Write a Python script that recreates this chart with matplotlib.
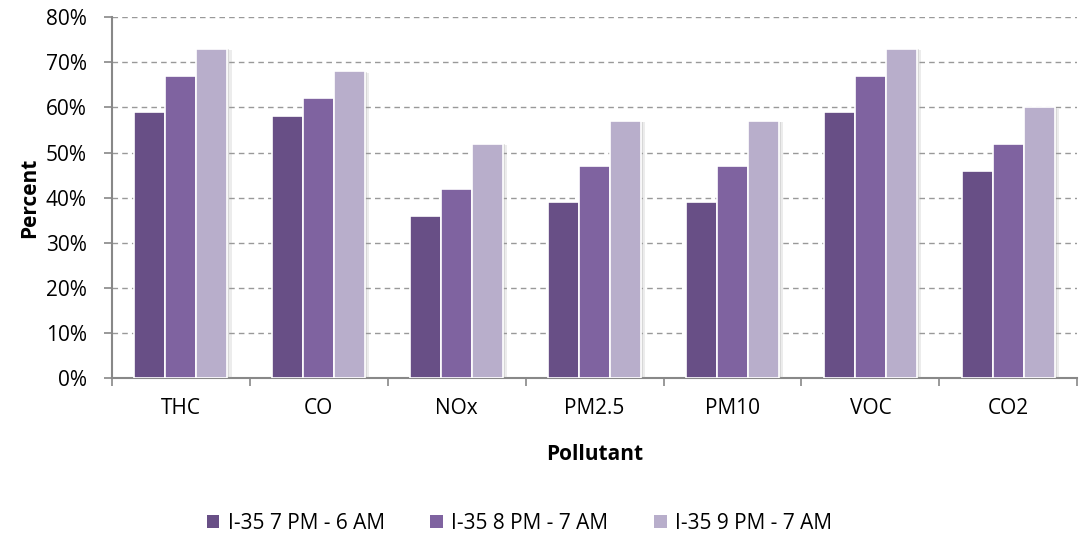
import matplotlib
matplotlib.use("Agg")
import matplotlib.pyplot as plt
import matplotlib.patheffects as pe
from matplotlib.patches import Patch
import numpy as np

# 오염물질별 저감률 (%)
pollutants = ["THC", "CO", "NOx", "PM2.5", "PM10", "VOC", "CO2"]
series_names = ["I-35 7 PM - 6 AM", "I-35 8 PM - 7 AM", "I-35 9 PM - 7 AM"]
pm7_6am = [59, 58, 36, 39, 39, 59, 46]
pm8_7am = [67, 62, 42, 47, 47, 67, 52]
pm9_7am = [73, 68, 52, 57, 57, 73, 60]
colors = ["#684f86", "#7f63a0", "#b8aecb"]

plt.rcParams['font.family'] = ['Open Sans', 'DejaVu Sans']
fs = 15

fig = plt.figure(figsize=(10.86, 5.35), dpi=100)
ax = fig.add_axes([0.103, 0.293, 0.889, 0.675])

x = np.arange(len(pollutants))
width = 0.225
# 엑셀 스타일의 부드러운 그림자
shadow = [pe.SimplePatchShadow(offset=(3, -1), shadow_rgbFace='#999999', alpha=0.18),
          pe.SimplePatchShadow(offset=(1.5, -0.5), shadow_rgbFace='#999999', alpha=0.25),
          pe.Normal()]

for i, (vals, name) in enumerate(zip([pm7_6am, pm8_7am, pm9_7am], series_names)):
    bars = ax.bar(x + (i - 1) * width, vals, width, color=colors[i],
                  edgecolor='white', linewidth=1.2, zorder=3)
    for b in bars:
        b.set_path_effects(shadow)

ax.set_xlim(-0.5, len(pollutants) - 0.5)
ax.set_ylim(0, 80)
ax.set_yticks(np.arange(0, 81, 10))
ax.set_yticklabels([f"{v}%" for v in range(0, 81, 10)], fontsize=fs)
ax.set_xticks(x)
ax.set_xticklabels(pollutants, fontsize=fs)
ax.set_xticks(np.arange(-0.5, len(pollutants)), minor=True)
ax.tick_params(axis='x', which='major', length=0, pad=14)
ax.tick_params(axis='x', which='minor', length=6, color='#888888', width=1.2)
ax.tick_params(axis='y', length=6, color='#888888', width=1.2, pad=12)

ax.yaxis.grid(True, linestyle=(0, (4, 3)), color='#999999', linewidth=1.0, zorder=0)
ax.set_axisbelow(True)
for s in ['top', 'right']:
    ax.spines[s].set_visible(False)
for s in ['left', 'bottom']:
    ax.spines[s].set_color('#888888')
    ax.spines[s].set_linewidth(1.5)

ax.set_ylabel("Percent", fontsize=fs, fontweight='bold', labelpad=4)
ax.set_xlabel("Pollutant", fontsize=fs, fontweight='bold', labelpad=18)

handles = [Patch(facecolor=c, edgecolor='none') for c in colors]
ax.legend(handles, series_names, loc='upper center', bbox_to_anchor=(0.422, -0.32),
          ncol=3, frameon=False, fontsize=fs, handlelength=0.6, handleheight=0.6,
          handletextpad=0.4, columnspacing=2.2)

fig.savefig("out.png", dpi=100)
